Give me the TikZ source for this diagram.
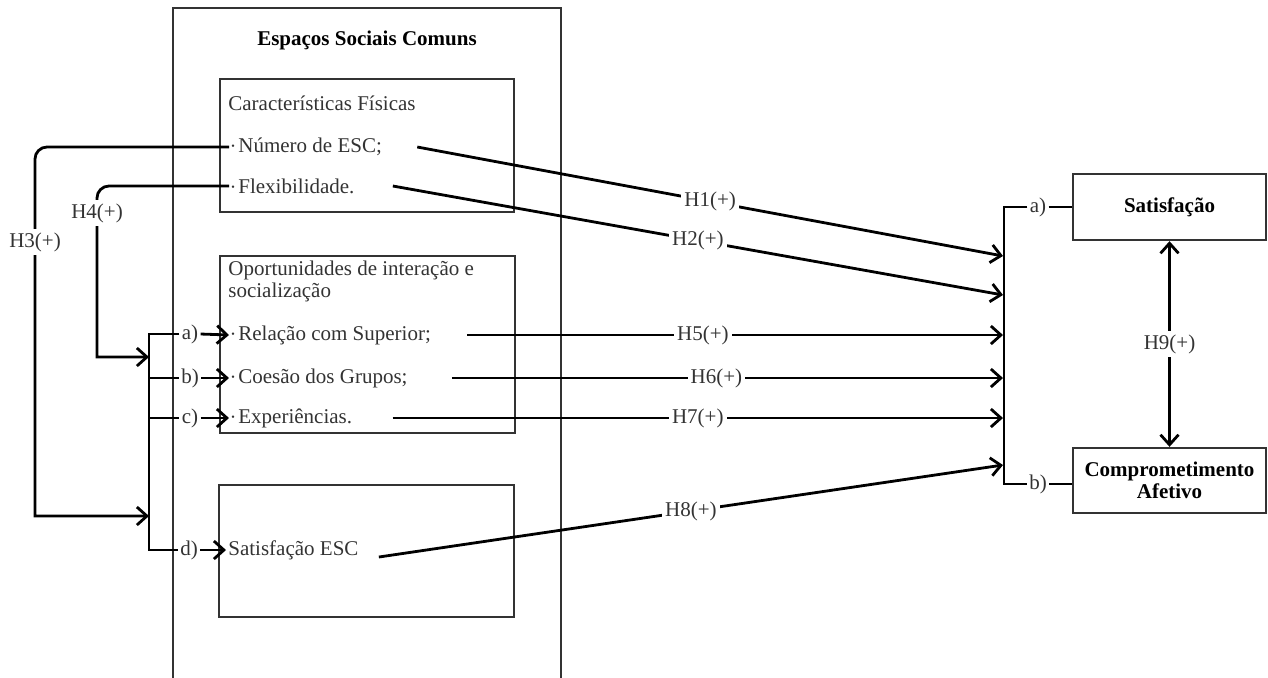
\documentclass[tikz,border=0pt]{standalone}
\usepackage{fontspec}
\setmainfont{Liberation Serif}
\usetikzlibrary{arrows.meta}
\begin{document}
\begin{tikzpicture}[x=0.5pt,y=-0.5pt]
	\tikzstyle{every node}=[font=\fontsize{10.5}{12.5}\selectfont, text=black!80, inner sep=1pt]
	\tikzstyle{caixa}=[draw=black!80, line width=1.2pt]
	\tikzstyle{item}=[anchor=west]
	\tikzstyle{rotulo}=[fill=white, inner sep=1.5pt]
	\tikzstyle{negrito}=[font=\fontsize{10.5}{12.5}\selectfont\bfseries, text=black]
	\tikzstyle{liga}=[line width=1.4pt, black]
	\tikzstyle{seta}=[liga, -{Straight Barb[length=5pt,width=9pt]}]
	\useasboundingbox (0,0) rectangle (1268,677);
	\draw[caixa] (173,690) -- (173,8) -- (561,8) -- (561,690);
	\node[negrito] (esc) at (367,40) {Espaços Sociais Comuns};
	\node[caixa, minimum width=147pt, minimum height=66.5pt] (fisicas) at (367,145.5) {};
	\node[caixa, minimum width=147.5pt, minimum height=88.5pt] (oport) at (367.5,344.5) {};
	\node[caixa, minimum width=147.5pt, minimum height=66pt] (satbox) at (366.5,551) {};
	\node[item] (tfis) at (226,103) {Características Físicas};
	\node[anchor=north west, align=left, font=\fontsize{10.5}{9.5}\selectfont] (toport) at (226,259) {Oportunidades de interação e\\socialização};
	\node[item] (numero) at (229,147) {\raisebox{0.3ex}{\tiny\textbullet}\,Número de ESC;};
	\node[item] (flexi) at (229,186) {\raisebox{0.3ex}{\tiny\textbullet}\,Flexibilidade.};
	\node[item] (relacao) at (229,335) {\raisebox{0.3ex}{\tiny\textbullet}\,Relação com Superior;};
	\node[item] (coesao) at (229,378) {\raisebox{0.3ex}{\tiny\textbullet}\,Coesão dos Grupos;};
	\node[item] (exper) at (229,418) {\raisebox{0.3ex}{\tiny\textbullet}\,Experiências.};
	\node[item] (satesc) at (226,550) {Satisfação ESC};
	\node (la) at (190,334) {a)};
	\node (lb) at (190,378) {b)};
	\node (lc) at (190,418) {c)};
	\node (ld) at (189,550) {d)};
	\node[caixa, negrito, minimum width=96.5pt, minimum height=33pt] (sat) at (1169.5,207) {Satisfação};
	\node[caixa, negrito, minimum width=96.5pt, minimum height=32.5pt, align=center, font=\fontsize{10.5}{11}\selectfont\bfseries] (comp) at (1169.5,480.5) {Comprometimento\\Afetivo};
	\node (ra) at (1038,207) {a)};
	\node (rb) at (1038,484) {b)};
	\coordinate (entH4) at (149,357);
	\coordinate (entH3) at (149,516);
	\coordinate (e1) at (1003,256);
	\coordinate (e2) at (1003,295);
	\coordinate (e5) at (1003,335);
	\coordinate (e6) at (1003,378);
	\coordinate (e7) at (1003,418);
	\coordinate (e8) at (1003,465);
	\draw[liga] (la.west) -- (149,334) -- (149,550) -- (ld.west);
	\draw[liga] (149,378) -- (lb.west);
	\draw[liga] (149,418) -- (lc.west);
	\draw[seta] (la.east) -- (relacao.west);
	\draw[seta] (lb.east) -- (coesao.west);
	\draw[seta] (lc.east) -- (exper.west);
	\draw[seta] (ld.east) -- (satesc.west);
	\draw[seta] (numero.west) -- (47,147) to[out=180,in=90] (35,159) -- (35,242) node[rotulo] {H3(+)} -- (35,516) -- (entH3);
	\draw[seta] (flexi.west) -- (109,186) to[out=180,in=90] (97,198) -- (97,213) node[rotulo] {H4(+)} -- (97,357) -- (entH4);
	\draw[liga] (ra.west) -- (1004,207) -- (1004,484) -- (rb.west);
	\draw[liga] (ra.east) -- (sat.west);
	\draw[liga] (rb.east) -- (rb.east -| comp.west);
	\draw[liga, {Straight Barb[length=5pt,width=9pt]}-{Straight Barb[length=5pt,width=9pt]}] (comp.north) -- node[rotulo] {H9(+)} (sat.south);
	\draw[seta] ([xshift=16.5pt]numero.east) -- node[rotulo, pos=0.5] {H1(+)} (e1);
	\draw[seta] ([xshift=18pt]flexi.east) -- node[rotulo, pos=0.5] {H2(+)} (e2);
	\draw[seta] ([xshift=17pt]relacao.east) -- node[rotulo, pos=0.44] {H5(+)} (e5);
	\draw[seta] ([xshift=21pt]coesao.east) -- node[rotulo, pos=0.48] {H6(+)} (e6);
	\draw[seta] ([xshift=19pt]exper.east) -- node[rotulo, pos=0.5] {H7(+)} (e7);
	\draw[seta] ([xshift=9pt,yshift=-3.5pt]satesc.east) -- node[rotulo, pos=0.5] {H8(+)} (e8);
\end{tikzpicture}
\end{document}
